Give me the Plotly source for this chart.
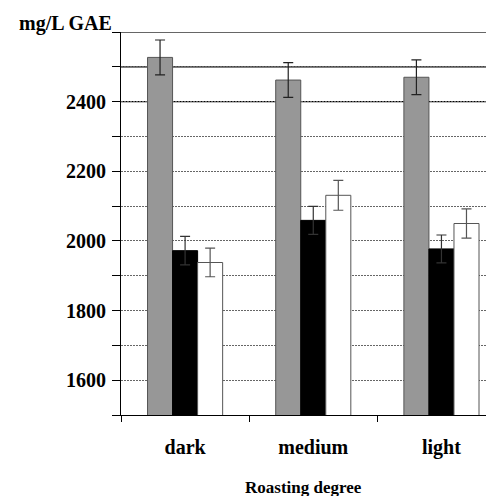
import plotly.graph_objects as go

categories = ["dark", "medium", "light"]
series_gray = [2527, 2462, 2470]
err_gray = [50, 50, 50]
series_black = [1972, 2059, 1977]
err_black = [41, 40, 40]
series_white = [1938, 2131, 2050]
err_white = [41, 43, 42]

y_ticks = list(range(1500, 2700, 100))
y_labels = [str(v) if v in (1600, 1800, 2000, 2200, 2400) else "" for v in y_ticks]
solid_grid = [2400, 2500]
top_line = 2600

font_family = "Liberation Serif, Times New Roman, serif"

fig = go.Figure()
fig.add_trace(go.Bar(
    x=categories, y=series_gray, marker=dict(color="#979797", line=dict(color="#555555", width=1)),
    error_y=dict(type="data", array=err_gray, color="#222222", thickness=1.2, width=5)))
fig.add_trace(go.Bar(
    x=categories, y=series_black, marker=dict(color="#000000", line=dict(color="#000000", width=1)),
    error_y=dict(type="data", array=err_black, color="#333333", thickness=1.2, width=5)))
fig.add_trace(go.Bar(
    x=categories, y=series_white, marker=dict(color="#ffffff", line=dict(color="#555555", width=1)),
    error_y=dict(type="data", array=err_white, color="#555555", thickness=1.2, width=5)))

shapes = []
for v in solid_grid:
    shapes.append(dict(type="line", xref="paper", x0=0, x1=1, yref="y", y0=v, y1=v,
                       line=dict(color="#000000", width=1.2), layer="below"))
shapes.append(dict(type="line", xref="paper", x0=0, x1=1, yref="y", y0=top_line, y1=top_line,
                   line=dict(color="#333333", width=1.6), layer="above"))

# page body has an 8px default margin; size the figure so the plot lands where the reference has it
fig.update_layout(
    width=486, height=488,
    margin=dict(l=113, r=0, t=24, b=81),
    plot_bgcolor="white", paper_bgcolor="white",
    showlegend=False,
    barmode="group", bargap=0.414, bargroupgap=0,
    font=dict(family=font_family, color="#000000"),
    shapes=shapes,
    xaxis=dict(
        type="category", range=[-0.5, 2.41],
        showline=True, linecolor="#000000", linewidth=1.2,
        ticks="outside", tickson="boundaries", ticklen=6, tickcolor="#000000",
        tickfont=dict(size=20, family=font_family, weight="bold"),
        ticklabelstandoff=14,
        showgrid=False,
    ),
    yaxis=dict(
        range=[1500, 2600],
        tickvals=y_ticks, ticktext=y_labels,
        showline=True, linecolor="#000000", linewidth=1.2,
        ticks="outside", ticklen=8, tickcolor="#000000",
        tickfont=dict(size=20, family=font_family, weight="bold"),
        ticklabelstandoff=2,
        showgrid=True, gridcolor="#666666", griddash="2px,1px", gridwidth=1,
        zeroline=False,
    ),
    annotations=[
        dict(text="<b>mg/L GAE</b>", xref="paper", yref="paper", x=-0.02, y=1.0,
             xanchor="right", yanchor="bottom", showarrow=False, yshift=-5,
             font=dict(size=20, family=font_family, color="#000000")),
        dict(text="<b>Roasting degree</b>", xref="paper", yref="paper", x=0.49, y=0,
             xanchor="center", yanchor="top", showarrow=False, yshift=-61,
             font=dict(size=17, family=font_family, color="#000000")),
    ],
)

fig.write_html("out.html")
